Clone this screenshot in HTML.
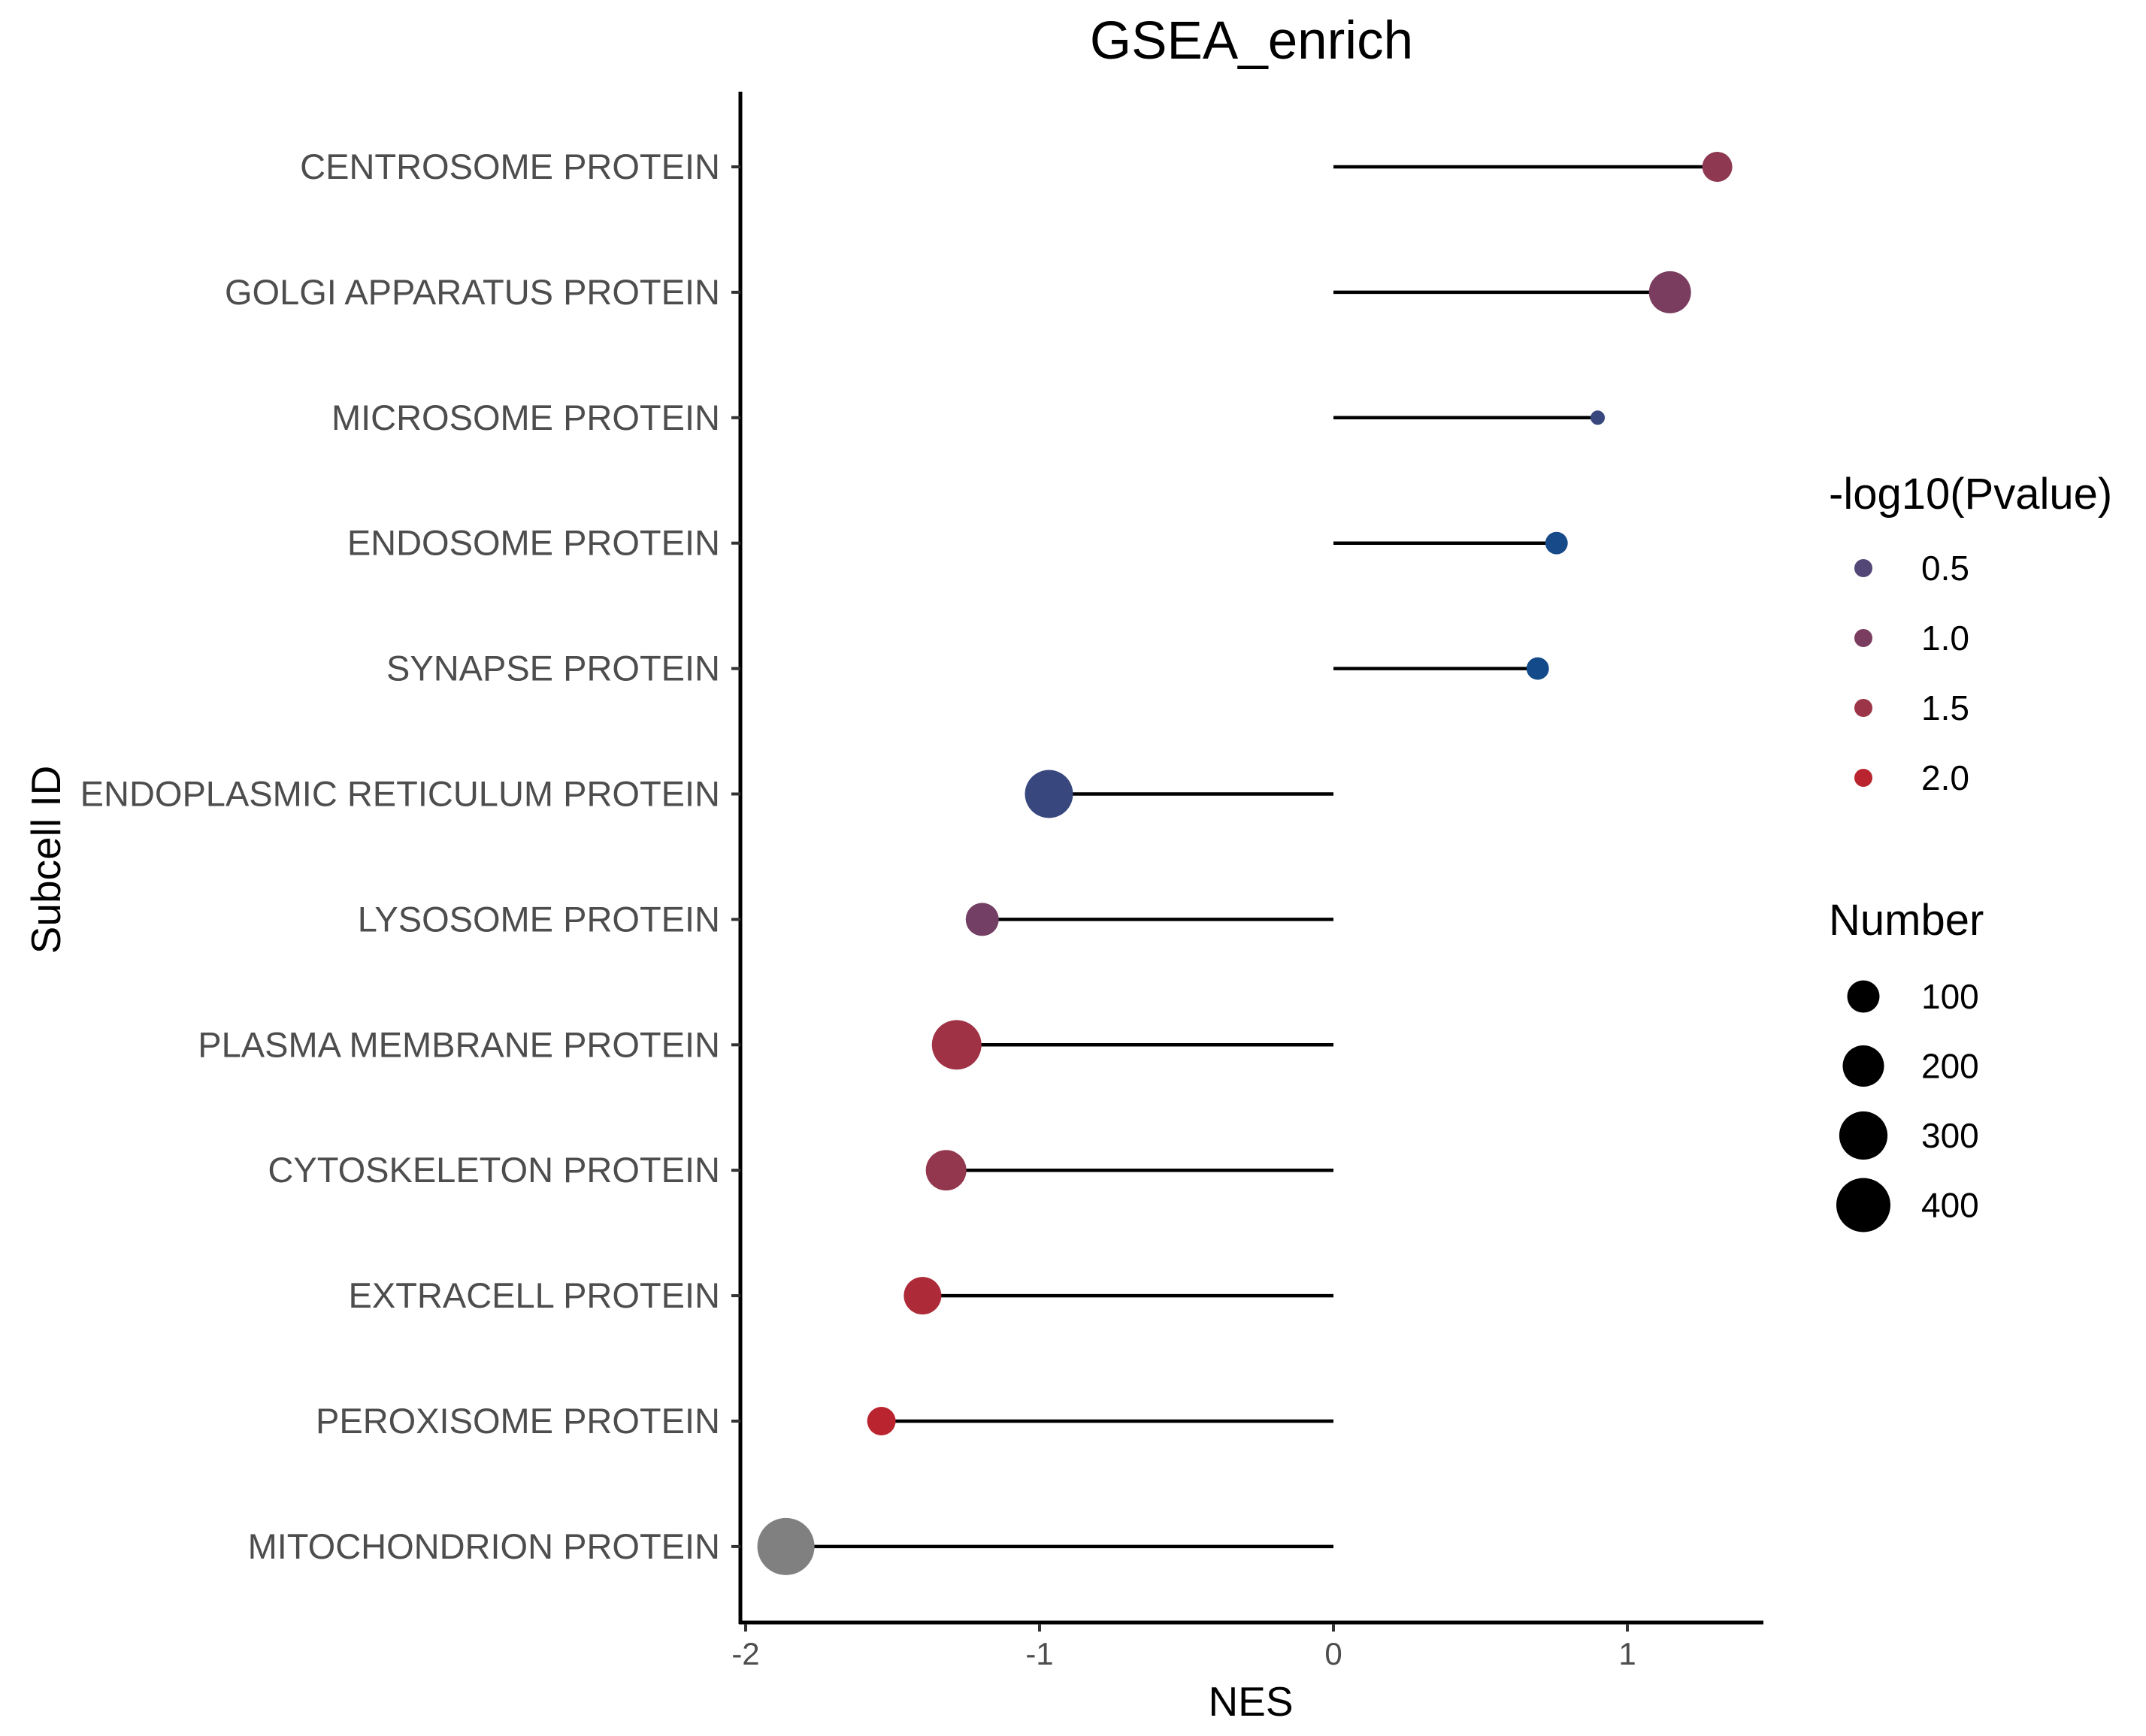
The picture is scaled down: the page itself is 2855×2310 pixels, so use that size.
<!DOCTYPE html>
<html><head><meta charset="utf-8"><style>
html,body{margin:0;padding:0;background:#fff;}
svg{display:block;font-family:"Liberation Sans",sans-serif;}
</style></head><body>
<svg id="chart" width="2855" height="2310" viewBox="0 0 2855 2310" xmlns="http://www.w3.org/2000/svg">
<rect width="2855" height="2310" fill="#fff"/>
<text x="1665" y="78" font-size="71" text-anchor="middle" fill="#000">GSEA_enrich</text>
<g id="plot"></g>
<text x="1664" y="2283" font-size="55" text-anchor="middle" fill="#000">NES</text>
<text transform="translate(80,1144) rotate(-90)" font-size="55" text-anchor="middle" fill="#000">Subcell ID</text>
<g id="legend"></g>
</svg>
<script>
const categories = ["CENTROSOME PROTEIN","GOLGI APPARATUS PROTEIN","MICROSOME PROTEIN","ENDOSOME PROTEIN","SYNAPSE PROTEIN","ENDOPLASMIC RETICULUM PROTEIN","LYSOSOME PROTEIN","PLASMA MEMBRANE PROTEIN","CYTOSKELETON PROTEIN","EXTRACELL PROTEIN","PEROXISOME PROTEIN","MITOCHONDRION PROTEIN"];
const nesValues = [1.306,1.145,0.899,0.759,0.695,-0.968,-1.195,-1.282,-1.318,-1.398,-1.538,-1.863];
const countValues = [80,210,3,30,30,297,107,321,190,154,68,457];
const pValues = [1.3,1.0,0.3,0.05,0.02,0.3,0.9,1.55,1.35,1.8,2.0,null];
const xTicks = [-2,-1,0,1];
const xTickLabels = ["-2","-1","0","1"];
const colorLegendValues = [0.5,1.0,1.5,2.0];
const colorLegendLabels = ["0.5","1.0","1.5","2.0"];
const sizeLegendValues = [100,200,300,400];
const sizeLegendLabels = ["100","200","300","400"];

const NS="http://www.w3.org/2000/svg";
const X0=1774, XU=391;
function xScale(v){return X0+v*XU;}
const Y0=222, YSTEP=166.9;
function yScale(i){return Y0+i*YSTEP;}
function rScale(n){return 7+1.45*Math.sqrt(Math.max(n,0));}
const stops=[[0,[16,74,138]],[0.5,[83,71,119]],[1.0,[123,61,95]],[1.5,[156,53,71]],[2.0,[185,36,47]]];
function colorScale(p){
  if(p===null||p===undefined) return "#808080";
  if(p<=stops[0][0]) p=stops[0][0];
  if(p>=stops[stops.length-1][0]) p=stops[stops.length-1][0];
  for(let k=0;k<stops.length-1;k++){
    const a=stops[k],b=stops[k+1];
    if(p>=a[0]&&p<=b[0]){const t=(p-a[0])/(b[0]-a[0]);
      const c=a[1].map((v,j)=>Math.round(v+(b[1][j]-v)*t));
      return "rgb("+c.join(",")+")";}
  }
}
function mk(tag,attrs,parent){const e=document.createElementNS(NS,tag);for(const k in attrs)e.setAttribute(k,attrs[k]);parent.appendChild(e);return e;}

const plot=document.getElementById('plot');
const yAxis=mk('line',{x1:985,y1:122,x2:985,y2:2161,stroke:'#000','stroke-width':5},plot);


const xAxis=mk('line',{x1:983,y1:2159,x2:2346,y2:2159,stroke:'#000','stroke-width':5},plot);


xTicks.forEach((t,i)=>{
  const tk=mk('line',{x1:xScale(t),y1:2161,x2:xScale(t),y2:2171,stroke:'#333','stroke-width':4},plot);
  
  
  const tl=mk('text',{x:xScale(t),y:2215,'font-size':42,'text-anchor':'middle',fill:'#4d4d4d'},plot);
  tl.textContent=xTickLabels[i];
  
  
});
categories.forEach((c,i)=>{
  const y=yScale(i);
  const tk=mk('line',{x1:973,y1:y,x2:985,y2:y,stroke:'#333','stroke-width':4},plot);
  
  
  const tl=mk('text',{x:958,y:y+16,'font-size':47,'text-anchor':'end',fill:'#4d4d4d'},plot);
  tl.textContent=c;
  
  
  const ln=mk('line',{x1:xScale(0),y1:y,x2:xScale(nesValues[i]),y2:y,stroke:'#000','stroke-width':4.5},plot);
  
  
  const pt=mk('circle',{cx:xScale(nesValues[i]),cy:y,r:rScale(countValues[i]),fill:colorScale(pValues[i])},plot);
  
  
});

const lg=document.getElementById('legend');
const t1=mk('text',{x:2433,y:677,'font-size':58,fill:'#000'},lg);
t1.textContent='-log10(Pvalue)';


colorLegendValues.forEach((v,i)=>{
  const y=756+i*93;
  const d=mk('circle',{cx:2479,cy:y,r:12,fill:colorScale(v)},lg);
  
  
  const t=mk('text',{x:2556,y:y+16,'font-size':46,fill:'#000'},lg);
  t.textContent=colorLegendLabels[i];
  
  
});
const t2=mk('text',{x:2433,y:1244,'font-size':58,fill:'#000'},lg);
t2.textContent='Number';


sizeLegendValues.forEach((v,i)=>{
  const y=1326+i*92.5;
  const d=mk('circle',{cx:2479,cy:y,r:rScale(v),fill:'#000'},lg);
  
  
  const t=mk('text',{x:2556,y:y+16,'font-size':46,fill:'#000'},lg);
  t.textContent=sizeLegendLabels[i];
  
  
});
</script>
</body></html>
